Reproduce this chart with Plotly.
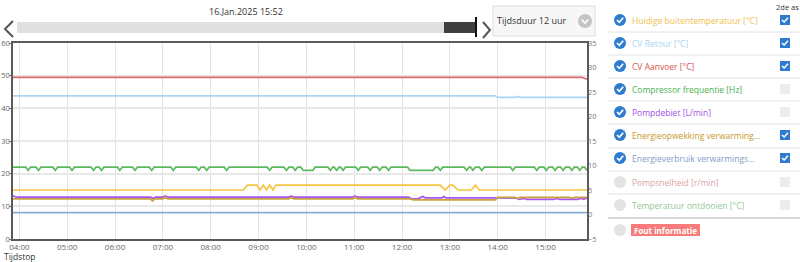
import plotly.graph_objects as go

DAY = "2025-01-16 "

# ---------------- data ----------------
buiten_t = ["03:52", "08:41", "08:46", "08:58", "09:02", "09:06", "09:10", "09:14", "09:18", "09:22",
            "12:48", "12:54", "13:00", "13:04", "13:10", "13:27", "13:32", "13:37", "15:52"]
buiten_v = [5, 5, 6, 6, 5, 6, 5, 6, 5, 6,
            6, 5, 6, 6, 5, 5, 6, 5, 5]

retour_t = ["03:52", "13:57", "14:00", "14:22", "14:25", "14:28", "15:52"]
retour_v = [24.2, 24.2, 23.9, 23.9, 24.1, 23.9, 23.9]

aanvoer_t = ["03:52", "15:45", "15:52"]
aanvoer_v = [28.0, 28.0, 27.6]

comp_t = ["03:52",
          "04:08", "04:11", "04:14", "04:21", "04:24", "04:27", "04:42", "04:45", "04:48",
          "05:03", "05:06", "05:09", "05:30", "05:33", "05:36", "05:40", "05:43", "05:46",
          "06:03", "06:06", "06:09", "06:22", "06:25", "06:28", "06:43", "06:46", "06:49",
          "07:10", "07:13", "07:16", "07:42", "07:45", "07:48", "07:52", "07:55", "07:58",
          "08:17", "08:20", "08:23", "09:11", "09:14", "09:17", "09:32", "09:35", "09:38",
          "09:43", "09:46", "09:49", "09:53", "09:56", "10:08", "10:11",
          "10:27", "10:30", "10:33", "10:35", "10:38", "10:41", "10:43", "10:46", "10:49",
          "11:02", "11:05", "11:08", "11:17", "11:20", "11:23", "11:29", "11:32", "11:35",
          "11:40", "11:43", "11:46", "12:07", "12:10", "12:39", "12:42",
          "12:45", "12:48", "12:51", "13:18", "13:21", "13:24", "13:26", "13:29", "13:32",
          "13:37", "13:40", "13:43", "14:16", "14:19", "14:22", "14:46", "14:49", "14:52",
          "14:58", "15:01", "15:04", "15:09", "15:12", "15:15", "15:19", "15:22", "15:25",
          "15:30", "15:33", "15:36", "15:40", "15:43", "15:46", "15:49", "15:52"]
comp_v = [22,
          22, 21, 22, 22, 21, 22, 22, 21, 22,
          22, 21, 22, 22, 21, 22, 22, 21, 22,
          22, 21, 22, 22, 21, 22, 22, 21, 22,
          22, 21, 22, 22, 21, 22, 22, 21, 22,
          22, 21, 22, 22, 21, 22, 22, 21, 22,
          22, 21, 22, 22, 21, 21, 22,
          22, 21, 22, 22, 21, 22, 22, 21, 22,
          22, 21, 22, 22, 21, 22, 22, 21, 22,
          22, 21, 22, 22, 21, 21, 22,
          22, 21, 22, 22, 21, 22, 22, 21, 22,
          22, 21, 22, 22, 21, 22, 22, 21, 22,
          22, 21, 22, 22, 21, 22, 22, 21, 22,
          22, 21, 22, 22, 21, 22, 22, 21]

debiet_t = ["03:52", "03:56", "06:45", "06:48", "06:51", "07:00", "07:03", "07:06",
            "09:38", "09:41", "09:44", "10:58", "11:01", "11:04", "12:08", "12:12", "12:20",
            "12:23", "12:26", "12:29", "12:50", "12:52", "12:55", "13:59", "14:24", "14:27",
            "14:33", "14:37", "15:10", "15:14", "15:18", "15:40", "15:44", "15:48", "15:52"]
debiet_v = [13.2, 12.8, 12.8, 12.4, 12.8, 12.8, 13.2, 12.8,
            12.8, 13.2, 12.8, 12.8, 13.2, 12.8, 12.8, 12.3, 12.3,
            12.6, 13.0, 12.6, 12.6, 13.0, 12.6, 12.6, 12.5, 12.1,
            12.4, 12.1, 12.1, 12.4, 12.1, 12.1, 12.4, 12.2, 12.5]

opwek_t = ["03:52", "06:44", "06:47", "06:50", "07:00", "07:03", "07:06", "09:38", "09:41", "09:44",
           "10:58", "11:01", "11:04", "12:10", "12:14", "13:57", "14:00", "14:22", "14:25", "14:28",
           "15:30", "15:33", "15:36", "15:52"]
opwek_v = [3.2, 3.2, 2.8, 3.2, 3.2, 3.5, 3.2, 3.2, 3.5, 3.2,
           3.2, 3.5, 3.2, 3.2, 3.0, 3.0, 3.5, 3.5, 3.2, 3.5,
           3.5, 3.3, 3.5, 3.5]

verbruik_t = ["03:52", "15:52"]
verbruik_v = [0.4, 0.4]

series_names = ["Huidige buitentemperatuur [°C]", "CV Retour [°C]", "CV Aanvoer [°C]",
                "Compressor frequentie [Hz]", "Pompdebiet [L/min]",
                "Energieopwekking verwarming...", "Energieverbruik verwarmings...",
                "Pompsnelheid [r/min]", "Temperatuur ontdooien [°C]"]
line_colors = ["#F5C542", "#AAD5F5", "#E06C6C", "#5CB85C", "#A855F0", "#C9A23E", "#8AADD3"]
text_colors = ["#EFC04C", "#A9D2F2", "#D9534F", "#4CAF50", "#A050E6", "#C49A2C", "#7F9EC6",
               "#D9A3A3", "#93C993"]
enabled = [True, True, True, True, True, True, True, False, False]
second_axis = [True, True, True, False, False, True, True, False, False]

x_ticks_fmt = "%H:%M"
y_left_ticks = [0, 10, 20, 30, 40, 50, 60]
y_right_ticks = [-5, 0, 5, 10, 15, 20, 25, 30, 35]

# ---------------- geometry helpers ----------------
W, H = 800, 262
L, R, T, B = 13, 213, 43, 23
PW, PH = W - L - R, H - T - B


def px(x):
    return (x - L) / PW


def py(y):
    return (H - B - y) / PH


FONT = "Open Sans"

fig = go.Figure()

data_series = [(buiten_t, buiten_v), (retour_t, retour_v), (aanvoer_t, aanvoer_v),
               (comp_t, comp_v), (debiet_t, debiet_v), (opwek_t, opwek_v),
               (verbruik_t, verbruik_v)]
for i, (tt, vv) in enumerate(data_series):
    fig.add_trace(go.Scatter(
        x=[DAY + t for t in tt], y=vv, mode="lines",
        name=series_names[i],
        line=dict(color=line_colors[i], width=1.7),
        yaxis="y2" if second_axis[i] else "y",
        showlegend=False, hoverinfo="skip"))

fig.update_layout(
    width=W, height=H,
    margin=dict(l=L, r=R, t=T, b=B, pad=0, autoexpand=False),
    paper_bgcolor="white", plot_bgcolor="white",
    font=dict(family=FONT, size=8, color="#666"),
    xaxis=dict(type="date", range=[DAY + "03:52", DAY + "15:52"],
               tickformat=x_ticks_fmt, dtick=3600000, tick0=DAY + "04:00",
               showgrid=True, gridcolor="#e4e4e4", gridwidth=1,
               showline=True, linecolor="#5a5a5a", linewidth=1.5, mirror=True,
               ticks="", tickfont=dict(size=8, color="#666"), zeroline=False,
               automargin=False),
    yaxis=dict(range=[0, 60], tickvals=y_left_ticks,
               showgrid=True, gridcolor="#e8e8e8", gridwidth=1.5,
               showline=True, linecolor="#5a5a5a", linewidth=1.5, mirror=True,
               ticks="outside", ticklen=2, tickcolor="#777", ticklabelstandoff=-2,
               tickfont=dict(size=7.5, color="#666"), zeroline=False, automargin=False),
    yaxis2=dict(range=[-5, 35], tickvals=y_right_ticks, overlaying="y", side="right",
                showgrid=False, zeroline=False, showline=False, ticks="",
                tickfont=dict(size=7.5, color="#777"), automargin=False),
)

shapes = []
ann = []

# x-axis title
ann.append(dict(x=px(2), y=py(256), xref="paper", yref="paper", text="Tijdstop",
                showarrow=False, xanchor="left", yanchor="middle",
                font=dict(family=FONT, size=8.5, color="#333")))

# ---------------- top controls ----------------
ann.append(dict(x=px(246), y=py(11), xref="paper", yref="paper", text="16.Jan.2025 15:52",
                showarrow=False, xanchor="center", yanchor="middle",
                font=dict(family=FONT, size=9, color="#333")))
shapes.append(dict(type="rect", xref="paper", yref="paper", x0=px(17), x1=px(477),
                   y0=py(33), y1=py(22), fillcolor="#e0e0e0", line=dict(width=0)))
shapes.append(dict(type="rect", xref="paper", yref="paper", x0=px(444), x1=px(476),
                   y0=py(33), y1=py(22), fillcolor="#3f3f3f", line=dict(width=0)))
shapes.append(dict(type="line", xref="paper", yref="paper", x0=px(476), x1=px(476),
                   y0=py(37), y1=py(17), line=dict(color="#111", width=2)))
shapes.append(dict(type="path", xref="paper", yref="paper",
                   path=f"M {px(13)},{py(21)} L {px(5)},{py(29)} L {px(13)},{py(37)}",
                   line=dict(color="#555", width=2)))
shapes.append(dict(type="path", xref="paper", yref="paper",
                   path=f"M {px(483)},{py(22)} L {px(490)},{py(30)} L {px(483)},{py(38)}",
                   line=dict(color="#555", width=2)))
# duration button
shapes.append(dict(type="rect", xref="paper", yref="paper", x0=px(493), x1=px(595),
                   y0=py(36), y1=py(6), fillcolor="#f7f7f7", line=dict(color="#dcdcdc", width=1)))
ann.append(dict(x=px(532), y=py(21), xref="paper", yref="paper", text="Tijdsduur 12 uur",
                showarrow=False, xanchor="center", yanchor="middle",
                font=dict(family=FONT, size=9, color="#333")))
shapes.append(dict(type="circle", xref="paper", yref="paper", x0=px(578), x1=px(592),
                   y0=py(28), y1=py(14), fillcolor="#c4c4c4", line=dict(width=0)))
shapes.append(dict(type="path", xref="paper", yref="paper",
                   path=f"M {px(581.5)},{py(19.5)} L {px(585)},{py(23)} L {px(588.5)},{py(19.5)}",
                   line=dict(color="white", width=1.6)))

# ---------------- legend panel ----------------
ann.append(dict(x=px(787), y=py(7), xref="paper", yref="paper", text="2de as",
                showarrow=False, xanchor="center", yanchor="middle",
                font=dict(family=FONT, size=7.5, color="#333")))
row_y = [20, 43, 66, 89, 112, 135, 158, 182, 205]
sep_y = [32, 55, 78, 101, 124, 148, 171, 194]
for sy in sep_y:
    shapes.append(dict(type="line", xref="paper", yref="paper", x0=px(608), x1=px(800),
                       y0=py(sy), y1=py(sy), line=dict(color="#e2e2e2", width=1)))
shapes.append(dict(type="line", xref="paper", yref="paper", x0=px(608), x1=px(800),
                   y0=py(218), y1=py(218), line=dict(color="#d8d8d8", width=2)))

BLUE = "#2F7CCF"
for i, name in enumerate(series_names):
    cy = row_y[i]
    if enabled[i]:
        shapes.append(dict(type="circle", xref="paper", yref="paper", x0=px(614), x1=px(626),
                           y0=py(cy + 6), y1=py(cy - 6), fillcolor=BLUE, line=dict(width=0)))
        shapes.append(dict(type="path", xref="paper", yref="paper",
                           path=f"M {px(617)},{py(cy)} L {px(619.3)},{py(cy + 2.3)} L {px(623.2)},{py(cy - 2.3)}",
                           line=dict(color="white", width=1.7)))
    else:
        shapes.append(dict(type="circle", xref="paper", yref="paper", x0=px(614), x1=px(626),
                           y0=py(cy + 6), y1=py(cy - 6), fillcolor="#e3e3e3", line=dict(width=0)))
    ann.append(dict(x=px(630), y=py(cy), xref="paper", yref="paper", text=name,
                    showarrow=False, xanchor="left", yanchor="middle",
                    font=dict(family=FONT, size=8.5, color=text_colors[i])))
    if second_axis[i]:
        shapes.append(dict(type="rect", xref="paper", yref="paper", x0=px(780), x1=px(790),
                           y0=py(cy + 5), y1=py(cy - 5), fillcolor=BLUE, line=dict(width=0)))
        shapes.append(dict(type="path", xref="paper", yref="paper",
                           path=f"M {px(782)},{py(cy)} L {px(784.2)},{py(cy + 2)} L {px(788)},{py(cy - 2.2)}",
                           line=dict(color="white", width=1.5)))
    else:
        shapes.append(dict(type="rect", xref="paper", yref="paper", x0=px(780), x1=px(790),
                           y0=py(cy + 5), y1=py(cy - 5), fillcolor="#ececec", line=dict(width=0)))

# Fout informatie row
shapes.append(dict(type="circle", xref="paper", yref="paper", x0=px(614), x1=px(626),
                   y0=py(236), y1=py(224), fillcolor="#e3e3e3", line=dict(width=0)))
shapes.append(dict(type="rect", xref="paper", yref="paper", x0=px(631), x1=px(700),
                   y0=py(236), y1=py(224), fillcolor="#F77B7B", line=dict(width=0)))
ann.append(dict(x=px(665.5), y=py(230), xref="paper", yref="paper", text="<b>Fout informatie</b>",
                showarrow=False, xanchor="center", yanchor="middle",
                font=dict(family=FONT, size=8, color="white")))

fig.update_layout(shapes=shapes, annotations=ann)
fig.write_html("out.html")
